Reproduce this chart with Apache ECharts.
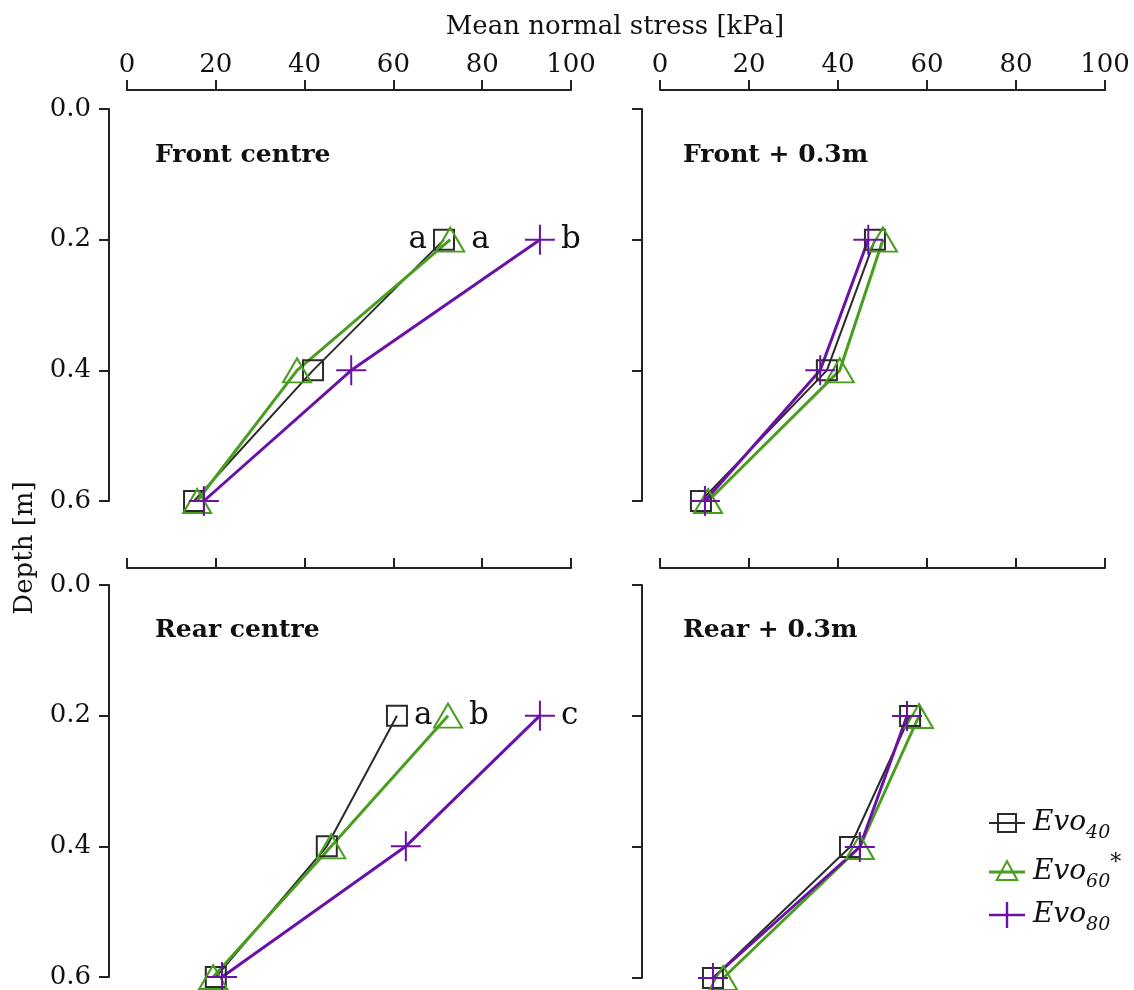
<!DOCTYPE html>
<html>
<head>
<meta charset="utf-8">
<script src="https://cdn.jsdelivr.net/npm/echarts@6.0.0/dist/echarts.min.js"></script>
<style>
html, body { margin: 0; padding: 0; background: #fff; }
#chart { width: 1134px; height: 990px; }
</style>
</head>
<body>
<div id="chart"></div>
<script>
// depth of the measurement points [m]
var depths = [0.2, 0.4, 0.6];
var xTicks = [0, 20, 40, 60, 80, 100];
var yTicks = [0.0, 0.2, 0.4, 0.6];

var seriesNames = ["Evo40", "Evo60*", "Evo80"];
var panelTitles = ["Front centre", "Front + 0.3m", "Rear centre", "Rear + 0.3m"];

// mean normal stress [kPa] at depths 0.2 / 0.4 / 0.6
var frontCentre40 = [71.4, 41.9, 15.1];
var frontCentre60 = [72.8, 38.3, 15.8];
var frontCentre80 = [93.0, 50.5, 17.3];

var frontSide40 = [48.3, 37.5, 9.2];
var frontSide60 = [50.1, 40.4, 10.8];
var frontSide80 = [46.8, 36.0, 10.1];

var rearCentre40 = [60.8, 45.0, 20.0];
var rearCentre60 = [72.3, 46.0, 19.4];
var rearCentre80 = [93.0, 62.8, 21.4];

var rearSide40 = [56.2, 42.7, 11.9];
var rearSide60 = [58.2, 44.9, 14.2];
var rearSide80 = [55.5, 44.9, 11.9];

// significance letters at 0.2 m
var frontCentreLetters = ["a", "a", "b"];
var rearCentreLetters = ["a", "b", "c"];

var panels = [
  [frontCentre40, frontCentre60, frontCentre80],
  [frontSide40, frontSide60, frontSide80],
  [rearCentre40, rearCentre60, rearCentre80],
  [rearSide40, rearSide60, rearSide80]
];
var panelLetters = [frontCentreLetters, null, rearCentreLetters, null];
var letterPos = [["left", "right", "right"], null, ["right", "right", "right"], null];

var colors = ["#2b2b2b", "#4a9e1f", "#6a12a8"];
var lineWidths = [2, 3, 3];
var symbols = [
  "rect",
  "triangle",
  "path://M0,14 H30 V16 H0 Z M14,0 H16 V30 H14 Z"
];
var symbolSizes = [20, [28, 24], 30];

// legend icons: line + open marker, drawn in a 36x26 box
var bboxPad = " M0,0 L0.01,0 Z M0,26 L0.01,26 Z";
var legendIcons = [
  "path://M0,12 H36 V14 H0 Z M8,3 H28 V23 H8 Z M10,5 V21 H26 V5 Z" + bboxPad,
  "path://M0,11.6 H36 V14.4 H0 Z M18,0 L30,22 L6,22 Z M18,4.2 L9.4,20 L26.6,20 Z" + bboxPad,
  "path://M0,11.8 H36 V14.2 H0 Z M16.8,0 H19.2 V26 H16.8 Z"
];

var serif = "DejaVu Serif";

var grids = [
  { left: 127, top: 109, width: 444, height: 392 },
  { left: 660, top: 109, width: 445, height: 392 },
  { left: 127, top: 585, width: 444, height: 393 },
  { left: 660, top: 585, width: 445, height: 393 }
];

var axisTick = { show: true, inside: false, length: 10, lineStyle: { color: "#222", width: 2 } };

var xAxes = grids.map(function (g, i) {
  return {
    gridIndex: i,
    type: "value",
    position: "top",
    offset: i < 2 ? 19 : 17,
    min: xTicks[0],
    max: xTicks[xTicks.length - 1],
    interval: 20,
    axisLine: { show: true, onZero: false, lineStyle: { color: "#222", width: 2 } },
    axisTick: axisTick,
    splitLine: { show: false },
    axisLabel: {
      show: i < 2,
      margin: 12,
      color: "#111",
      fontFamily: serif,
      fontSize: 26
    }
  };
});

var yAxes = grids.map(function (g, i) {
  return {
    gridIndex: i,
    type: "value",
    inverse: true,
    position: "left",
    offset: 18,
    min: yTicks[0],
    max: yTicks[yTicks.length - 1],
    interval: 0.2,
    axisLine: { show: true, onZero: false, lineStyle: { color: "#222", width: 2 } },
    axisTick: axisTick,
    splitLine: { show: false },
    axisLabel: {
      show: i % 2 === 0,
      margin: 18,
      color: "#111",
      fontFamily: serif,
      fontSize: 26,
      formatter: function (v) { return v.toFixed(1); }
    }
  };
});

var series = [];
panels.forEach(function (panel, p) {
  panel.forEach(function (vals, s) {
    var letters = panelLetters[p];
    series.push({
      name: seriesNames[s],
      type: "line",
      xAxisIndex: p,
      yAxisIndex: p,
      symbol: symbols[s],
      symbolSize: symbolSizes[s],
      showAllSymbol: true,
      lineStyle: { color: colors[s], width: lineWidths[s] },
      itemStyle: {
        color: s === 2 ? colors[s] : "transparent",
        borderColor: colors[s],
        borderWidth: s === 2 ? 0 : 2
      },
      emphasis: { disabled: true },
      data: vals.map(function (v, k) {
        var item = { value: [v, depths[k]] };
        if (letters && k === 0) {
          item.label = {
            show: true,
            position: letterPos[p][s],
            distance: 6,
            formatter: letters[s],
            color: "#111",
            fontFamily: serif,
            fontSize: 31
          };
        }
        return item;
      })
    });
  });
});

var titles = panelTitles.map(function (t, i) {
  return {
    text: t,
    left: (i % 2 === 0 ? 155 : 683),
    top: (i < 2 ? 143 : 618),
    padding: 0,
    textStyle: { fontFamily: serif, fontWeight: "bold", fontSize: 25, color: "#111" }
  };
});

var chart = echarts.init(document.getElementById("chart"));
chart.setOption({
  animation: false,
  backgroundColor: "#fff",
  title: titles,
  grid: grids,
  xAxis: xAxes,
  yAxis: yAxes,
  legend: {
    orient: "vertical",
    left: 984,
    top: 804,
    itemWidth: 36,
    itemHeight: 26,
    itemGap: 9,
    selectedMode: false,
    data: seriesNames.map(function (n, s) {
      return { name: n, icon: legendIcons[s], itemStyle: { color: colors[s], borderWidth: 0 } };
    }),
    formatter: function (name) {
      var m = name.match(/Evo(\d+)(\*?)/);
      return "{i|Evo}{s|" + m[1] + "}" + (m[2] ? "{a|*}" : "");
    },
    textStyle: {
      fontFamily: serif,
      color: "#111",
      rich: {
        i: { fontFamily: serif, fontStyle: "italic", fontSize: 28, color: "#111", lineHeight: 40, padding: [0, 0, 0, 3] },
        s: { fontFamily: serif, fontStyle: "italic", fontSize: 19, color: "#111", lineHeight: 20, verticalAlign: "bottom" },
        a: { fontFamily: serif, fontSize: 22, color: "#111", lineHeight: 26, verticalAlign: "top" }
      }
    }
  },
  graphic: [
    {
      type: "text",
      x: 615,
      y: 14,
      style: { text: "Mean normal stress [kPa]", fontFamily: serif, fontSize: 26, fill: "#111", align: "center", verticalAlign: "top" }
    },
    {
      type: "text",
      x: 12,
      y: 548,
      rotation: Math.PI / 2,
      style: { text: "Depth [m]", fontFamily: serif, fontSize: 26, fill: "#111", align: "center", verticalAlign: "top" }
    }
  ],
  series: series
});
</script>
</body>
</html>
